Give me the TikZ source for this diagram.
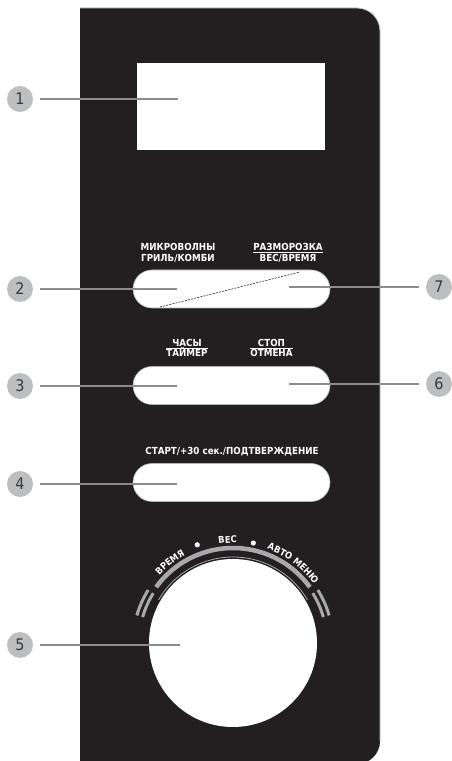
\documentclass[tikz,border=0pt]{standalone}
\usepackage{fontspec}
\newfontfamily\condfont{DejaVu Sans Condensed}
\usetikzlibrary{shapes.misc, decorations.text}
\definecolor{panelblack}{HTML}{231F20}
\definecolor{numgray}{HTML}{BCBEC0}
\definecolor{numtext}{HTML}{3A3A3C}
\definecolor{leadgray}{HTML}{8C8C8C}
\definecolor{arcgray}{HTML}{A7A9AC}
\tikzset{
	numcircle/.style={circle, fill=numgray, minimum size=26pt, inner sep=0pt, outer sep=7pt, text=numtext, font=\fontsize{16}{16}\selectfont\condfont}
}
\tikzset{
	btnlabel/.style={text=white, inner sep=0pt, anchor=base, font=\fontsize{9.7}{11}\selectfont\condfont\bfseries}
}
\tikzset{
	pill/.style={rounded rectangle, fill=white, draw=gray!60, line width=0.6pt, minimum width=197pt, minimum height=38pt, inner sep=0pt},
	leader/.style={draw=leadgray, line width=1.2pt},
	labelrule/.style={draw=white, line width=0.9pt}
}
\newcommand{\knobfont}{\fontsize{9.3}{9.3}\selectfont\condfont\bfseries}

\begin{document}
\begin{tikzpicture}[x=1pt, y=1pt]
  \useasboundingbox (0,0) rectangle (451,761);
  % front panel
  \fill[panelblack] (80,-3) -- (80,753) -- (357,753) arc[start angle=90, end angle=0, radius=23]
    -- (380,20) arc[start angle=0, end angle=-90, radius=23] -- cycle;
  \draw[gray!45, line width=0.8pt] (80,753) -- (357,753) arc[start angle=90, end angle=0, radius=23] -- (380,20);
  % display window
  \node[fill=white, minimum width=188pt, minimum height=87pt, inner sep=0pt] (display) at (231,654.5) {};
  % buttons
  \node[pill] (btnmode) at (231.5,472) {};
  \node[pill] (btnclock) at (231.5,375.5) {};
  \node[pill] (btnstart) at (231.5,278.5) {};
  \coordinate (dashA) at (160,454);
  \coordinate (dashB) at (300,489);
  \draw[panelblack, dash pattern=on 2pt off 1.2pt, line width=0.6pt] (dashA) -- (dashB);
  % button labels
  \node[btnlabel] (modetop) at (178,510.3) {МИКРОВОЛНЫ};
  \node[btnlabel] (modebot) at (178,499.3) {ГРИЛЬ/КОМБИ};
  \node[btnlabel] (deftop) at (288,510.3) {РАЗМОРОЗКА};
  \node[btnlabel] (defbot) at (288,499.3) {ВЕС/ВРЕМЯ};
  \draw[labelrule] ([yshift=-2pt]deftop.base west) -- ([yshift=-2pt]deftop.base east);
  \node[btnlabel] (clocktop) at (187,414.3) {ЧАСЫ};
  \node[btnlabel] (clockbot) at (187,404.3) {ТАЙМЕР};
  \draw[labelrule] ([yshift=-1.6pt]clockbot.west |- clocktop.base) -- ([yshift=-1.6pt]clockbot.east |- clocktop.base);
  \node[btnlabel] (stoptop) at (271.5,414.3) {СТОП};
  \node[btnlabel] (stopbot) at (271.5,404.3) {ОТМЕНА};
  \draw[labelrule] ([yshift=-1.6pt]stopbot.west |- stoptop.base) -- ([yshift=-1.6pt]stopbot.east |- stoptop.base);
  \node[btnlabel] (startlbl) at (232,306) {СТАРТ/+30 сек./ПОДТВЕРЖДЕНИЕ};
  % knob with scale
  \coordinate (knobc) at (233,118);
  \draw[arcgray, line width=4.5pt] (knobc) ++(144:95) arc[start angle=144, end angle=36, radius=95];
  \foreach \r in {94,100} {
    \draw[arcgray, line width=3pt] (knobc) ++(164:\r) arc[start angle=164, end angle=148, radius=\r];
    \draw[arcgray, line width=3pt] (knobc) ++(32:\r) arc[start angle=32, end angle=16, radius=\r];
  }
  \draw[gray!70, line width=0.8pt] (knobc) ++(150:86) arc[start angle=150, end angle=30, radius=86];
  \node[circle, fill=white, minimum size=168pt, inner sep=0pt] (knob) at (knobc) {};
  \fill[white] (knobc) ++(110:104.5) circle[radius=2.6];
  \fill[white] (knobc) ++(78.5:102) circle[radius=2.6];
  \path[decorate, decoration={text along path, text={|\knobfont|ВРЕМЯ}, text align=center, text color=white}]
    (knobc) ++(146:100) arc[start angle=146, end angle=110, radius=100];
  \path[decorate, decoration={text along path, text={|\knobfont|ВЕС}, text align=center, text color=white}]
    (knobc) ++(105:100) arc[start angle=105, end angle=81, radius=100];
  \path[decorate, decoration={text along path, text={|\knobfont|АВТО МЕНЮ}, text align=center, text color=white}]
    (knobc) ++(80:100) arc[start angle=80, end angle=26, radius=100];
  % numbered callouts
  \foreach \n/\y/\xe in {1/662/178, 2/472/177, 3/375/177, 4/277/177, 5/116/180} {
    \node[numcircle] (num\n) at (20,\y) {\n};
    \coordinate (end\n) at (\xe,\y);
    \draw[leader] (num\n) -- (end\n);
  }
  \foreach \n/\y in {7/474, 6/377} {
    \node[numcircle] (num\n) at (439,\y) {\n};
    \coordinate (end\n) at (289,\y);
    \draw[leader] (num\n) -- (end\n);
  }
\end{tikzpicture}
\end{document}
